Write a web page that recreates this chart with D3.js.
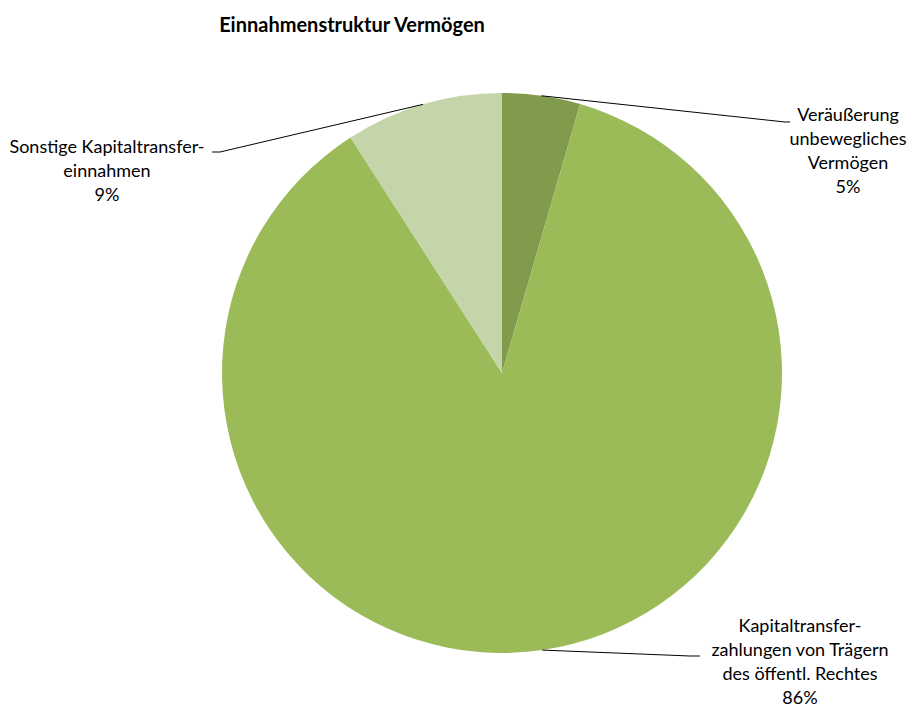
<!DOCTYPE html>
<html>
<head>
<meta charset="utf-8">
<script src="https://cdn.jsdelivr.net/npm/d3@7"></script>
<style>
  body { margin: 0; background: #fff; }
  #pie-chart { width: 911px; height: 707px; }
  text { font-family: Lato, "Open Sans", sans-serif; fill: #000; }
</style>
</head>
<body>
<div id="pie-chart"></div>
<script>
const categories = [
  ["Veräußerung", "unbewegliches", "Vermögen"],
  ["Kapitaltransfer-", "zahlungen von Trägern", "des öffentl. Rechtes"],
  ["Sonstige Kapitaltransfer-", "einnahmen"]
];
const values = [4.5, 86.4, 9.1];
const percentLabels = ["5%", "86%", "9%"];
const colors = ["#7f9b4b", "#9bbb59", "#c4d6a9"];

(function() {
  const width = 911;
  const height = 707;
  const cx = 502, cy = 373, radius = 280;

  const svg = d3.select("#pie-chart")
    .append("svg")
    .attr("width", width)
    .attr("height", height);

  svg.append("text")
    .attr("x", 352)
    .attr("y", 32)
    .attr("text-anchor", "middle")
    .style("font-weight", "bold")
    .style("font-size", "20px")
    .text("Einnahmenstruktur Vermögen");

  const pie = d3.pie().sort(null).value(d => d)(values);
  const arc = d3.arc().innerRadius(0).outerRadius(radius);

  const g = svg.append("g").attr("transform", `translate(${cx},${cy})`);

  g.selectAll("path")
    .data(pie)
    .join("path")
    .attr("d", arc)
    .attr("fill", (d, i) => colors[i]);

  // label block placement (center x, first line y) and leader line anchor
  const labelPos = [
    { x: 848, y: 121, ax: 790, ay: 122, hx: 785 },
    { x: 800, y: 632, ax: 700, ay: 656, hx: 690 },
    { x: 107, y: 153, ax: 212, ay: 152, hx: 220 }
  ];

  pie.forEach((d, i) => {
    const mid = (d.startAngle + d.endAngle) / 2;
    const px = cx + radius * Math.sin(mid);
    const py = cy - radius * Math.cos(mid);
    const p = labelPos[i];

    svg.append("polyline")
      .attr("points", `${px},${py} ${p.hx},${p.ay} ${p.ax},${p.ay}`)
      .attr("fill", "none")
      .attr("stroke", "#000")
      .attr("stroke-width", 1);

    const lines = categories[i].concat([percentLabels[i]]);
    const t = svg.append("text")
      .attr("text-anchor", "middle")
      .style("font-size", "18px");
    lines.forEach((line, j) => {
      t.append("tspan")
        .attr("x", p.x)
        .attr("y", p.y + j * 24)
        .text(line);
    });
  });
})();
</script>
</body>
</html>
